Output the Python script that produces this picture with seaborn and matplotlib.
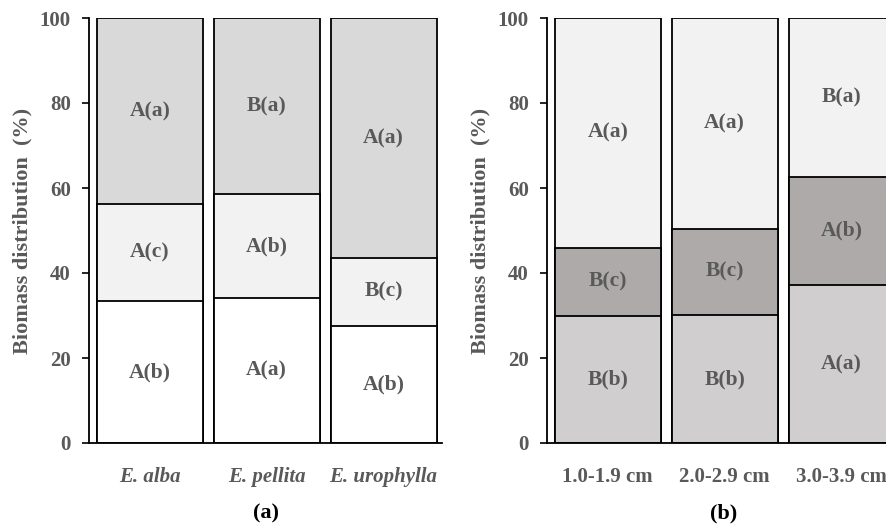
import matplotlib
matplotlib.use("Agg")
import matplotlib.pyplot as plt
import seaborn as sns
import numpy as np
import pandas as pd

# ---- data ----
species = ["E. alba", "E. pellita", "E. urophylla"]
a_seg1 = [33.4, 34.2, 27.6]
a_seg2 = [22.8, 24.3, 15.9]
a_seg3 = [43.8, 41.5, 56.5]
a_lab1 = ["A(b)", "A(a)", "A(b)"]
a_lab2 = ["A(c)", "A(b)", "B(c)"]
a_lab3 = ["A(a)", "B(a)", "A(a)"]

sizes = ["1.0-1.9 cm", "2.0-2.9 cm", "3.0-3.9 cm"]
b_seg1 = [29.9, 30.1, 37.1]
b_seg2 = [16.1, 20.3, 25.6]
b_seg3 = [54.0, 49.6, 37.3]
b_lab1 = ["B(b)", "B(b)", "A(a)"]
b_lab2 = ["B(c)", "B(c)", "A(b)"]
b_lab3 = ["A(a)", "A(a)", "B(a)"]

y_ticks = [0, 20, 40, 60, 80, 100]

sns.set_style("white")
plt.rcParams['font.family'] = ['Liberation Serif', 'DejaVu Serif']

GRAY = "#595959"
W, H = 887, 527
fig = plt.figure(figsize=(W / 100, H / 100), dpi=100)

def px_axes(x0, y0, x1, y1):
    return fig.add_axes([x0 / W, 1 - y1 / H, (x1 - x0) / W, (y1 - y0) / H])

def panel(ax, cats, segs, labs, colors, italic, caption):
    s1, s2, s3 = [np.array(s, dtype=float) for s in segs]
    cum = [s1, s1 + s2, s1 + s2 + s3]
    # draw from tallest to shortest so lower segments overlay
    for level in [2, 1, 0]:
        df = pd.DataFrame({"cat": cats, "val": cum[level]})
        sns.barplot(data=df, x="cat", y="val", ax=ax, color=colors[level],
                    saturation=1, width=0.906, edgecolor="black",
                    linewidth=1.3, order=cats)
    bottoms = [np.zeros(3), s1, s1 + s2]
    heights = [s1, s2, s3]
    for level in range(3):
        for i in range(3):
            ax.text(i, bottoms[level][i] + heights[level][i] / 2, labs[level][i],
                    ha="center", va="center", fontsize=15.5, fontweight="bold",
                    color=GRAY)
    ax.set_xlim(-0.52, 2.5)
    ax.set_ylim(0, 100)
    ax.set_yticks(y_ticks)
    ax.set_yticklabels([str(t) for t in y_ticks], fontsize=15, fontweight="bold",
                       color=GRAY)
    ax.set_xticks(range(3))
    ax.set_xticklabels(cats, fontsize=15, fontweight="bold", color=GRAY,
                       style="italic" if italic else "normal")
    ax.tick_params(axis="y", direction="out", length=5, width=1.2, color="black",
                   pad=8, left=True)
    ax.tick_params(axis="x", length=0, pad=17)
    ax.set_xlabel(caption, fontsize=16, fontweight="bold", color="black",
                  labelpad=12)
    ax.set_ylabel("Biomass distribution  (%)", fontsize=16, fontweight="bold",
                  color=GRAY, labelpad=5)
    for side in ["top", "right"]:
        ax.spines[side].set_visible(False)
    for side in ["left", "bottom"]:
        ax.spines[side].set_color("black")
        ax.spines[side].set_linewidth(1.3)
    ax.set_facecolor("none")

ax1 = px_axes(89, 18, 442, 443)
panel(ax1, species, [a_seg1, a_seg2, a_seg3], [a_lab1, a_lab2, a_lab3],
      ["#ffffff", "#f2f2f2", "#d9d9d9"], True, "(a)")

ax2 = px_axes(547, 18, 900, 443)
panel(ax2, sizes, [b_seg1, b_seg2, b_seg3], [b_lab1, b_lab2, b_lab3],
      ["#d0cece", "#aeaaaa", "#f2f2f2"], False, "(b)")

fig.savefig("out.png", dpi=100, facecolor="white")
